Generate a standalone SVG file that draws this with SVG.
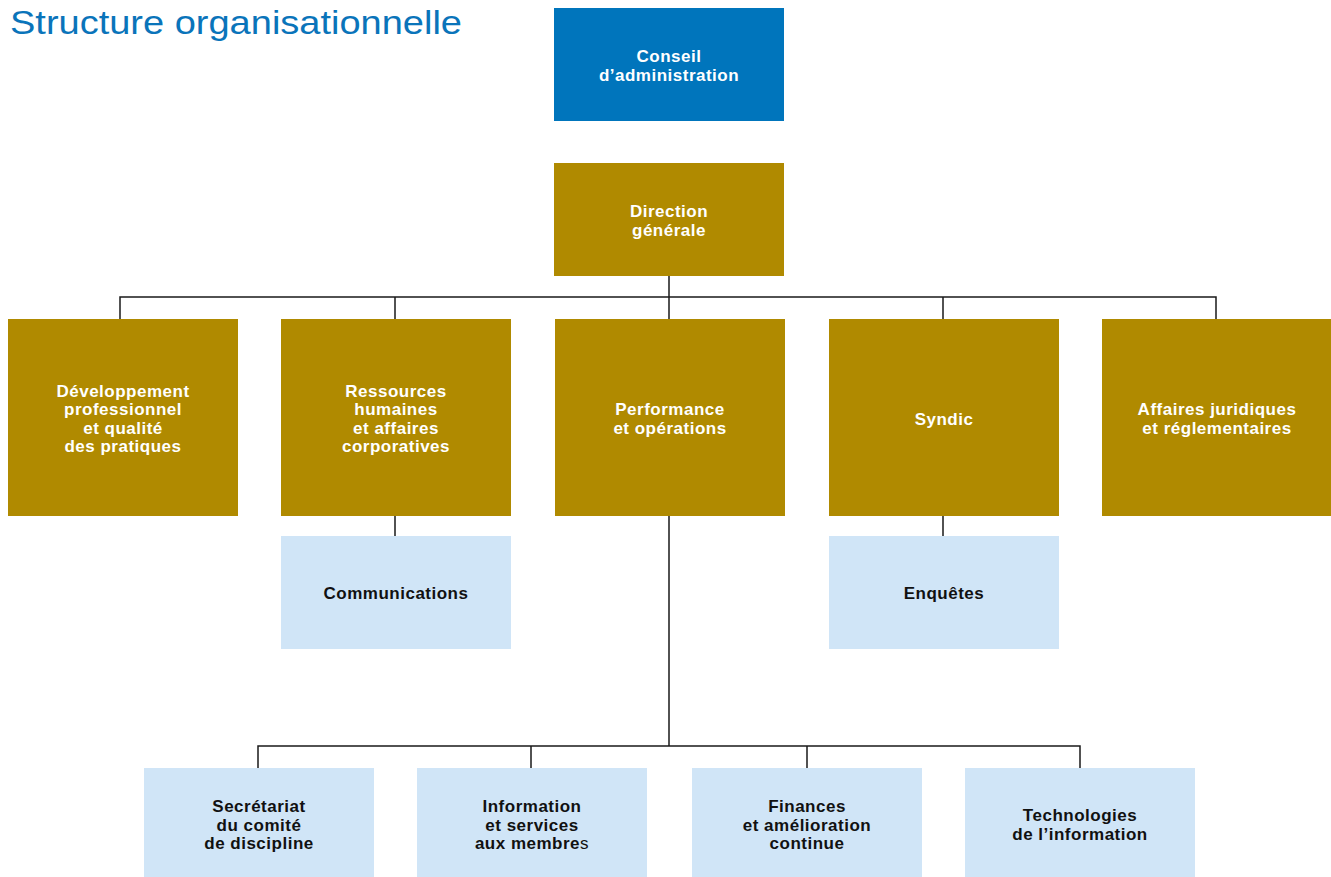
<svg xmlns="http://www.w3.org/2000/svg" width="1331" height="877" viewBox="0 0 1331 877">
<style>
.t{font-family:"Liberation Sans",Arial,sans-serif;font-weight:bold;font-size:17px;text-anchor:middle;letter-spacing:0.5px}
.w{fill:#ffffff}
.k{fill:#111111}
.blue{fill:#0075BC}
.gold{fill:#B08A00}
.lb{fill:#D0E5F7}
.c{stroke:#1a1a1a;stroke-width:1.5;fill:none}
</style>
<rect width="1331" height="877" fill="#ffffff"/>
<text x="10" y="34" font-family="Liberation Sans,Arial,sans-serif" font-size="33" fill="#0A74BA" textLength="452" lengthAdjust="spacingAndGlyphs">Structure organisationnelle</text>
<g id="connectors">
<path class="c" d="M669 276V319M120 319V297H1216V319M395 297V319M943 297V319"/>
<path class="c" d="M395 516V536M943 516V536"/>
<path class="c" d="M669 516V746M258 768V746H1080V768M531 746V768M807 746V768"/>
</g>
<g id="conseil"><rect class="blue" x="554" y="8" width="230" height="113"/>
<text class="t w"><tspan x="669" y="62">Conseil</tspan><tspan x="669" y="81">d’administration</tspan></text></g>
<g id="direction"><rect class="gold" x="554" y="163" width="230" height="113"/>
<text class="t w"><tspan x="669" y="217">Direction</tspan><tspan x="669" y="236">générale</tspan></text></g>
<g id="dev"><rect class="gold" x="8" y="319" width="230" height="197"/>
<text class="t w"><tspan x="123" y="396.5">Développement</tspan><tspan x="123" y="415">professionnel</tspan><tspan x="123" y="433.5">et qualité</tspan><tspan x="123" y="452">des pratiques</tspan></text></g>
<g id="rh"><rect class="gold" x="281" y="319" width="230" height="197"/>
<text class="t w"><tspan x="396" y="396.5">Ressources</tspan><tspan x="396" y="415">humaines</tspan><tspan x="396" y="433.5">et affaires</tspan><tspan x="396" y="452">corporatives</tspan></text></g>
<g id="perf"><rect class="gold" x="555" y="319" width="230" height="197"/>
<text class="t w"><tspan x="670" y="415">Performance</tspan><tspan x="670" y="433.5">et opérations</tspan></text></g>
<g id="syndic"><rect class="gold" x="829" y="319" width="230" height="197"/>
<text class="t w"><tspan x="944" y="424.5">Syndic</tspan></text></g>
<g id="juridique"><rect class="gold" x="1102" y="319" width="229" height="197"/>
<text class="t w"><tspan x="1217" y="415">Affaires juridiques</tspan><tspan x="1217" y="433.5">et réglementaires</tspan></text></g>
<g id="communications"><rect class="lb" x="281" y="536" width="230" height="113"/>
<text class="t k"><tspan x="396" y="599">Communications</tspan></text></g>
<g id="enquetes"><rect class="lb" x="829" y="536" width="230" height="113"/>
<text class="t k"><tspan x="944" y="599">Enquêtes</tspan></text></g>
<g id="secretariat"><rect class="lb" x="144" y="768" width="230" height="109"/>
<text class="t k"><tspan x="259" y="812">Secrétariat</tspan><tspan x="259" y="830.5">du comité</tspan><tspan x="259" y="849">de discipline</tspan></text></g>
<g id="information"><rect class="lb" x="417" y="768" width="230" height="109"/>
<text class="t k"><tspan x="532" y="812">Information</tspan><tspan x="532" y="830.5">et services</tspan><tspan x="532" y="849">aux membre<tspan font-weight="normal">s</tspan></tspan></text></g>
<g id="finances"><rect class="lb" x="692" y="768" width="230" height="109"/>
<text class="t k"><tspan x="807" y="812">Finances</tspan><tspan x="807" y="830.5">et amélioration</tspan><tspan x="807" y="849">continue</tspan></text></g>
<g id="technologies"><rect class="lb" x="965" y="768" width="230" height="109"/>
<text class="t k"><tspan x="1080" y="821">Technologies</tspan><tspan x="1080" y="840">de l’information</tspan></text></g>
</svg>
